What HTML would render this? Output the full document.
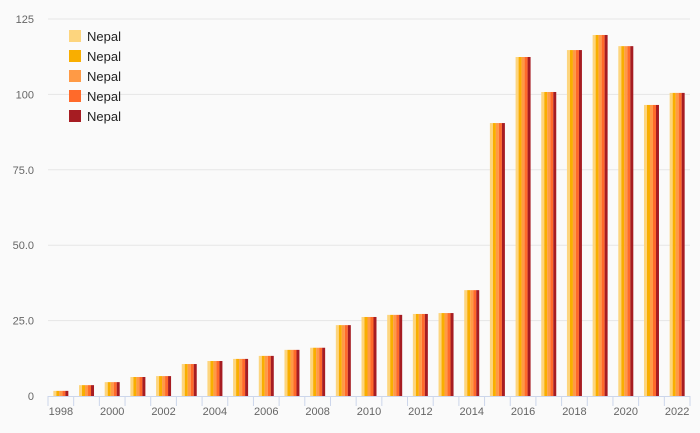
<!DOCTYPE html>
<html><head><meta charset="utf-8"><style>
body{margin:0;background:#fafafa;}
svg{display:block;font-family:"Liberation Sans",sans-serif;}
</style></head><body>
<svg id="chart" width="700" height="433" viewBox="0 0 700 433" xmlns="http://www.w3.org/2000/svg">
<rect width="700" height="433" fill="#fafafa"/>
<g id="grid"></g><g id="bars"></g><g id="axis"></g><g id="legend"></g>
</svg>
<script>
const years=["1998","1999","2000","2001","2002","2003","2004","2005","2006","2007","2008","2009","2010","2011","2012","2013","2014","2015","2016","2017","2018","2019","2020","2021","2022"];
const values=[1.7,3.6,4.6,6.3,6.6,10.6,11.6,12.3,13.3,15.3,16,23.5,26.2,26.9,27.2,27.5,35.1,90.5,112.4,100.8,114.7,119.7,116,96.5,100.5];
const yTicks=[0,25,50,75,100,125];
const yTickLabels=["0","25.0","50.0","75.0","100","125"];
const seriesNames=["Nepal","Nepal","Nepal","Nepal","Nepal"];
const colors=["#fdd57e","#f9ae00","#ff9a45","#ff6a2a","#a61c22"];
const NS="http://www.w3.org/2000/svg";
const x0=48,x1=690,y0=396,yTop=19,yMax=125;
const bw=(x1-x0)/years.length;
const y=v=>y0-(v/yMax)*(y0-yTop);
function mk(t,a,p){const e=document.createElementNS(NS,t);for(const k in a)e.setAttribute(k,a[k]);p.appendChild(e);return e;}
const grid=document.getElementById('grid'),bars=document.getElementById('bars'),axis=document.getElementById('axis'),legend=document.getElementById('legend');
yTicks.forEach((t,i)=>{
 if(t>0){const l=mk('line',{x1:x0,x2:x1,y1:y(t),y2:y(t),stroke:'#e6e6e6','stroke-width':1},grid);
 
 }
 const tx=mk('text',{x:34,y:y(t)+4,'text-anchor':'end','font-size':11,fill:'#666'},axis);
 tx.textContent=yTickLabels[i];
 
 
});
const sw=3;
years.forEach((yr,i)=>{
 const cx=x0+bw*(i+0.5);
 seriesNames.forEach((s,j)=>{
  const r=mk('rect',{x:cx-7.5+j*sw,y:y(values[i]),width:sw,height:y0-y(values[i]),fill:colors[j]},bars);
  
  
 });
});
const al=mk('line',{x1:x0,x2:x1,y1:y0+0.5,y2:y0+0.5,stroke:'#ccd6eb','stroke-width':1},axis);


for(let i=0;i<=years.length;i++){
 const tk=mk('line',{x1:x0+bw*i,x2:x0+bw*i,y1:y0,y2:y0+10,stroke:'#ccd6eb','stroke-width':1},axis);
 
 
}
years.forEach((yr,i)=>{
 if(i%2)return;
 const tx=mk('text',{x:x0+bw*(i+0.5),y:415,'text-anchor':'middle','font-size':11,fill:'#666'},axis);
 tx.textContent=yr;
 
 
});
seriesNames.forEach((s,j)=>{
 const g=mk('g',{},legend);
 
 
 mk('rect',{x:69,y:30+j*20,width:12,height:12,fill:colors[j]},g);
 const t=mk('text',{x:87,y:41+j*20,'font-size':13,fill:'#222'},g);
 t.textContent=s;
});
</script>
</body></html>
